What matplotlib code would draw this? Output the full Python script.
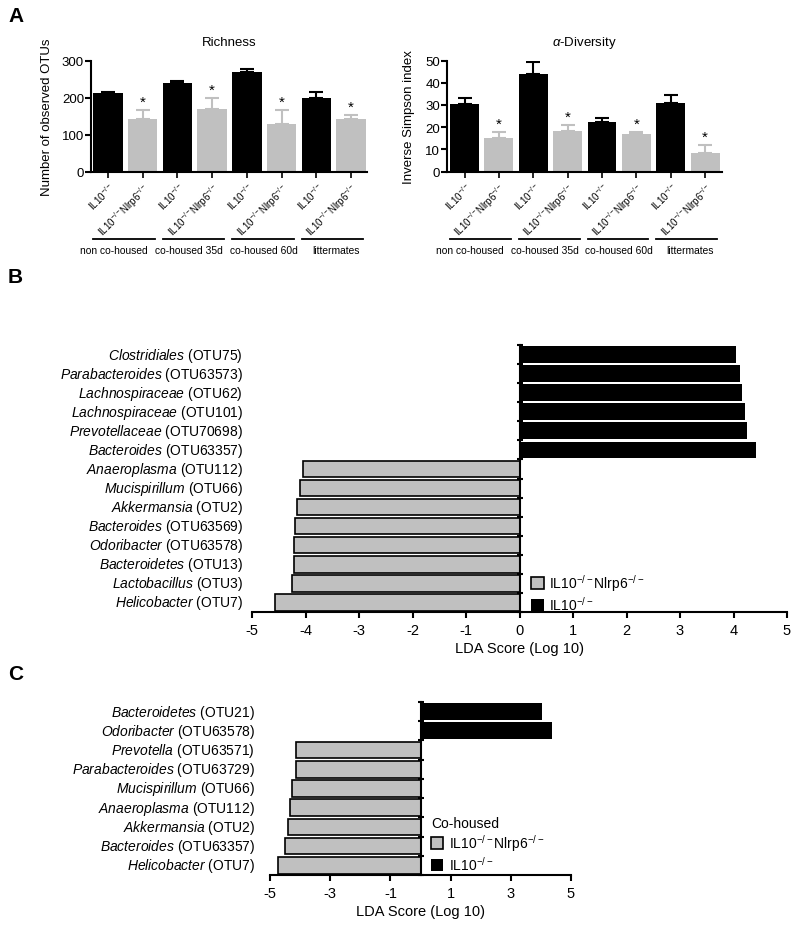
import numpy as np
import matplotlib
matplotlib.use("Agg")
import matplotlib.pyplot as plt
from matplotlib.patches import Patch
from matplotlib.transforms import blended_transform_factory

plt.rcParams["font.family"] = ["Liberation Sans", "DejaVu Sans"]
plt.rcParams["mathtext.fontset"] = "custom"
plt.rcParams["mathtext.rm"] = "Liberation Sans"
plt.rcParams["mathtext.it"] = "Liberation Sans:italic"
plt.rcParams["mathtext.bf"] = "Liberation Sans:bold"
plt.rcParams["axes.unicode_minus"] = False

GRAY = "#c0c0c0"

# ---- panel A data ----
il10 = r"IL10$^{-/-}$"
dko = r"IL10$^{-/-}$Nlrp6$^{-/-}$"
bar_labels = [il10, dko] * 4
groups = ["non co-housed", "co-housed 35d", "co-housed 60d", "littermates"]
richness = [212, 142, 239, 170, 270, 128, 200, 141]
richness_err = [4, 24, 5, 29, 7, 37, 14, 12]
invsimpson = [30.2, 15.3, 44.0, 18.3, 22.2, 16.7, 30.8, 8.5]
invsimpson_err = [2.7, 2.6, 5.3, 2.5, 2.1, 1.1, 3.5, 3.3]
signif = [False, True] * 4

# ---- panel B data ----
b_genus = ["Clostridiales", "Parabacteroides", "Lachnospiraceae", "Lachnospiraceae",
           "Prevotellaceae", "Bacteroides", "Anaeroplasma", "Mucispirillum",
           "Akkermansia", "Bacteroides", "Odoribacter", "Bacteroidetes",
           "Lactobacillus", "Helicobacter"]
b_otu = ["OTU75", "OTU63573", "OTU62", "OTU101", "OTU70698", "OTU63357", "OTU112",
         "OTU66", "OTU2", "OTU63569", "OTU63578", "OTU13", "OTU3", "OTU7"]
b_lda = [4.05, 4.12, 4.15, 4.22, 4.25, 4.42, -4.04, -4.11, -4.16, -4.19, -4.21,
         -4.21, -4.26, -4.57]

# ---- panel C data ----
c_genus = ["Bacteroidetes", "Odoribacter", "Prevotella", "Parabacteroides",
           "Mucispirillum", "Anaeroplasma", "Akkermansia", "Bacteroides", "Helicobacter"]
c_otu = ["OTU21", "OTU63578", "OTU63571", "OTU63729", "OTU66", "OTU112", "OTU2",
         "OTU63357", "OTU7"]
c_lda = [4.02, 4.36, -4.12, -4.12, -4.28, -4.33, -4.41, -4.49, -4.72]

W, H = 800, 928
fig = plt.figure(figsize=(W / 100, H / 100), dpi=100)


def px_axes(x0, y0, x1, y1):
    return fig.add_axes([x0 / W, 1 - y1 / H, (x1 - x0) / W, (y1 - y0) / H])


def style(ax, lw=1.5):
    for s in ("top", "right"):
        ax.spines[s].set_visible(False)
    for s in ("left", "bottom"):
        ax.spines[s].set_linewidth(lw)


# group captions sit a bit right of the pair's centre, drifting right
GROUP_TEXT_SHIFT = [0.17, 0.34, 0.48, 0.56]


def bar_panel(ax, vals, errs, xlim, width, ymax, yticks, title, ylabel, label_x):
    x = np.arange(len(vals))
    colors = ["black" if not s else GRAY for s in signif]
    ax.bar(x, vals, width=width, color=colors, zorder=2)
    for xi, v, e, c in zip(x, vals, errs, colors):
        ax.errorbar(xi, v, yerr=[[0], [e]], fmt="none", ecolor=c, elinewidth=1.5,
                    capsize=5, capthick=1.5, zorder=1)
    for xi, v, e, s in zip(x, vals, errs, signif):
        if s:
            ax.annotate("*", xy=(xi, v + e), xytext=(0, 1), textcoords="offset points",
                        ha="center", va="bottom", fontsize=11)
    style(ax)
    ax.set_xlim(*xlim)
    ax.set_ylim(0, ymax)
    ax.set_yticks(yticks)
    ax.set_xticks(x)
    ax.set_xticklabels(bar_labels, rotation=45, ha="right", rotation_mode="anchor",
                       fontsize=7)
    ax.tick_params(axis="y", labelsize=9.5, length=4, width=1.5, pad=1)
    ax.tick_params(axis="x", length=4, width=1.2, pad=2)
    ax.set_title(title, fontsize=9.5, pad=11)
    ax.set_ylabel(ylabel, fontsize=9.5)
    ax.yaxis.set_label_coords(label_x, 0.5)
    tr = blended_transform_factory(ax.transData, ax.transAxes)
    for i, g in enumerate(groups):
        ax.plot([2 * i - 0.42, 2 * i + 1.35], [-0.604, -0.604], color="black", lw=1.3,
                transform=tr, clip_on=False)
        ax.text(2 * i + GROUP_TEXT_SHIFT[i], -0.71, g, transform=tr, ha="center",
                va="center", fontsize=7.4)


axL = px_axes(91, 61.5, 367, 172.5)
bar_panel(axL, richness, richness_err, (-0.49, 7.46), 0.85, 300, [0, 100, 200, 300],
          "Richness", "Number of observed OTUs", -38 / 276)
axR = px_axes(447, 61.5, 722, 172.5)
bar_panel(axR, invsimpson, invsimpson_err, (-0.51, 7.49), 0.84, 50,
          [0, 10, 20, 30, 40, 50], r"$\alpha$-Diversity", "Inverse Simpson index",
          -32 / 275)


def lda_panel(ax, genus, otu, lda, xticks, label_off):
    n = len(lda)
    y = np.arange(n)[::-1]
    for yi, v in zip(y, lda):
        if v > 0:
            ax.barh(yi, v, height=0.88, color="black", zorder=2)
        else:
            ax.barh(yi, v, height=0.86, color=GRAY, edgecolor="black", lw=1.2, zorder=2)
    style(ax)
    ax.spines["left"].set_position(("data", 0))
    ax.spines["left"].set_zorder(3)
    ax.set_xlim(-5, 5)
    ax.set_ylim(-0.5, n - 0.5)
    ax.set_yticks(np.arange(-0.5, n, 1))
    ax.set_yticklabels([])
    ax.tick_params(axis="y", direction="inout", length=5, width=1.5)
    ax.set_xticks(xticks)
    ax.tick_params(axis="x", length=4, width=1.5, labelsize=10.5, pad=4)
    ax.set_xlabel("LDA Score (Log 10)", fontsize=10.5, labelpad=3)
    tr = blended_transform_factory(ax.transAxes, ax.transData)
    for yi, g, o in zip(y, genus, otu):
        ax.text(-label_off, yi, "$\\it{%s}$ (%s)" % (g, o), transform=tr, ha="right",
                va="center", fontsize=10)


axB = px_axes(252, 346, 787, 613)
lda_panel(axB, b_genus, b_otu, b_lda, np.arange(-5, 6), 9 / 535)
axC = px_axes(270, 703, 571, 876)
lda_panel(axC, c_genus, c_otu, c_lda, [-5, -3, -1, 1, 3, 5], 15 / 301)

handles = [Patch(facecolor=GRAY, edgecolor="black", lw=1.2), Patch(facecolor="black")]
legend_labels = [dko, il10]
fig.legend(handles, legend_labels, loc="upper left", bbox_to_anchor=(531 / W, 1 - 573 / H),
           frameon=False, borderpad=0, borderaxespad=0, handlelength=0.9,
           handleheight=0.9, handletextpad=0.4, labelspacing=0.15, fontsize=10)
fig.legend(handles, legend_labels, loc="upper left",
           bbox_to_anchor=(431 / W, 1 - 817 / H), title="Co-housed",
           title_fontsize=10, alignment="left", frameon=False, borderpad=0,
           borderaxespad=0, handlelength=0.9, handleheight=0.9, handletextpad=0.4,
           labelspacing=0.15, fontsize=10)

for lab, yy in (("A", 17), ("B", 278), ("C", 674)):
    fig.text(8 / W, 1 - yy / H, lab, fontsize=15, weight="bold", va="center")

fig.savefig("out.png", dpi=100)
